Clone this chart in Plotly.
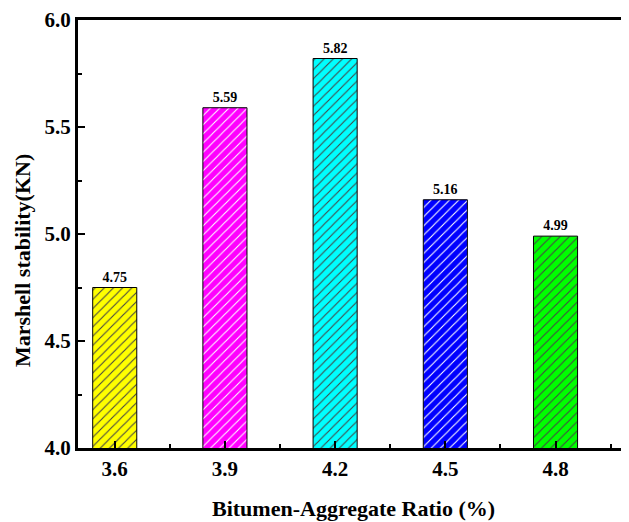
import plotly.graph_objects as go

ratios = [3.6, 3.9, 4.2, 4.5, 4.8]
tick_labels = ["3.6", "3.9", "4.2", "4.5", "4.8"]
stability = [4.75, 5.59, 5.82, 5.16, 4.99]
colors = ["#FFFF00", "#FF00FF", "#00FFFF", "#0000FF", "#00FF00"]
x_title = "Bitumen-Aggregate Ratio (%)"
y_title = "Marshell stability(KN)"

FONT = "Liberation Serif, Times New Roman, serif"

fig = go.Figure()
fig.add_trace(go.Bar(
    x=ratios,
    y=stability,
    width=0.12,
    marker=dict(
        color=colors,
        line=dict(color="black", width=1),
        pattern=dict(shape="/", fgcolor="black", fgopacity=1,
                     size=6.5, solidity=0.17, fillmode="overlay"),
    ),
    text=[f"{v:.2f}" for v in stability],
    textposition="outside",
    textfont=dict(family=FONT, size=14, color="black", weight="bold"),
    cliponaxis=False,
    showlegend=False,
))

fig.update_layout(
    width=621, height=514,
    margin=dict(l=70, r=0, t=12, b=74),
    paper_bgcolor="white", plot_bgcolor="white",
    font=dict(family=FONT, color="black"),
    xaxis=dict(
        range=[3.5, 5.0],
        tickvals=ratios, ticktext=tick_labels,
        ticks="inside", ticklen=7, tickwidth=2, tickcolor="black",
        minor=dict(tickvals=[3.75, 4.05, 4.35, 4.65, 4.95], ticks="inside", ticklen=4, tickwidth=2, tickcolor="black"),
        showline=True, linewidth=3, linecolor="black", mirror=True,
        showgrid=False, zeroline=False,
        ticklabeloverflow="allow",
        tickfont=dict(family=FONT, size=21, weight="bold"),
        automargin=False,
    ),
    yaxis=dict(
        range=[4.0, 6.0],
        tickvals=[4.0, 4.5, 5.0, 5.5, 6.0], tickformat=".1f",
        ticks="inside", ticklen=7, tickwidth=2, tickcolor="black",
        minor=dict(tickvals=[4.25, 4.75, 5.25, 5.75], ticks="inside", ticklen=4, tickwidth=2, tickcolor="black"),
        showline=True, linewidth=3, linecolor="black", mirror=False,
        showgrid=False, zeroline=False,
        ticklabeloverflow="allow",
        tickfont=dict(family=FONT, size=21, weight="bold"),
        automargin=False,
    ),
    annotations=[
        dict(text=x_title, xref="paper", yref="paper", x=0.5, y=0,
             xanchor="center", yanchor="middle", xshift=0, yshift=-60,
             showarrow=False, font=dict(family=FONT, size=22, weight="bold")),
        dict(text=y_title, xref="paper", yref="paper", x=0, y=0.5,
             xanchor="center", yanchor="middle", xshift=-56, yshift=-27,
             textangle=-90, showarrow=False,
             font=dict(family=FONT, size=22, weight="bold")),
    ],
)

fig.write_html("out.html")
